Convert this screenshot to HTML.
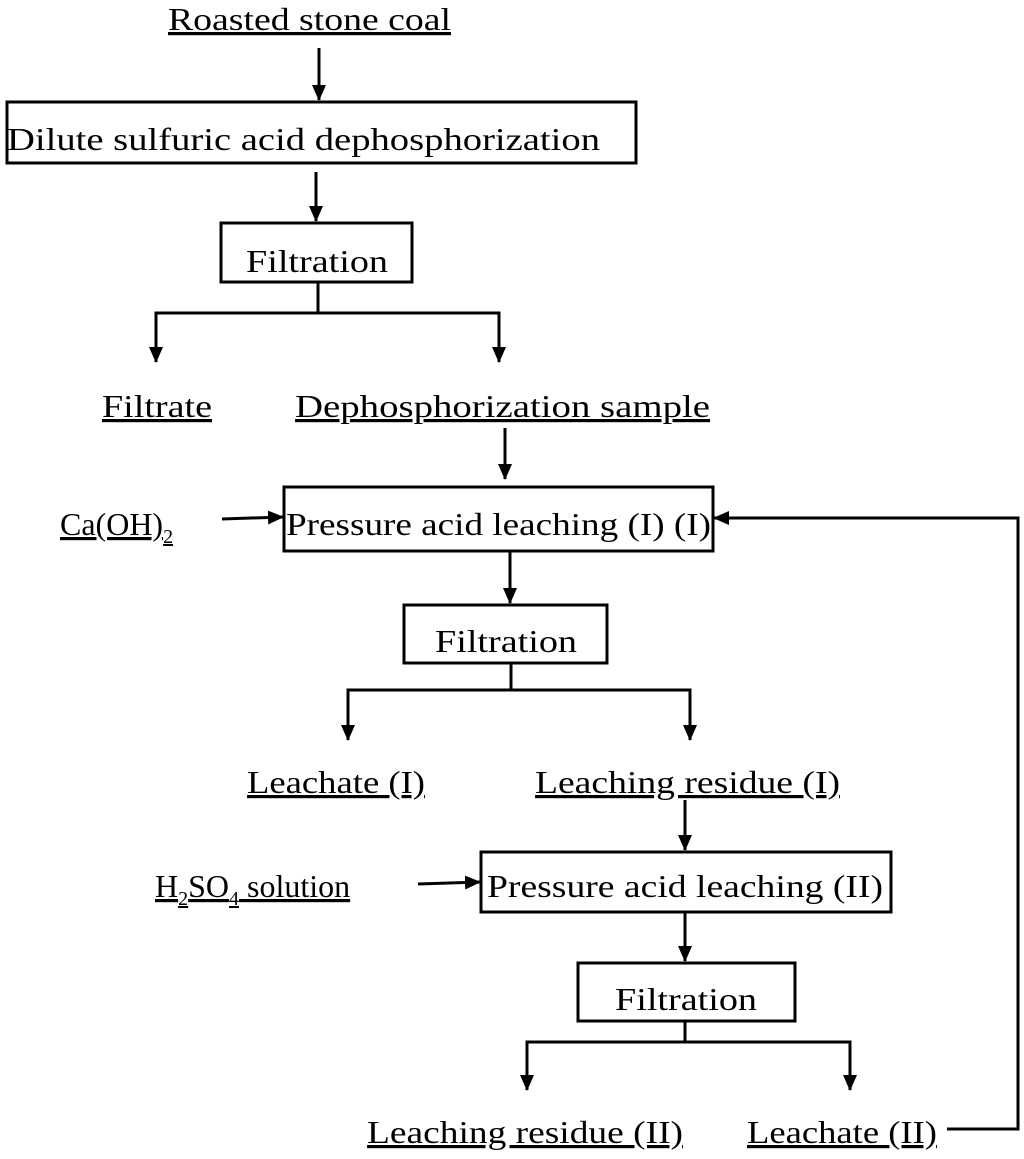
<!DOCTYPE html>
<html><head><meta charset="utf-8"><style>body{margin:0;background:#fff}svg{display:block}</style></head><body>
<svg width="1024" height="1159" viewBox="0 0 1024 1159" xmlns="http://www.w3.org/2000/svg" font-family="Liberation Serif, serif" font-size="32" fill="#000">
<defs><marker id="a" markerWidth="10" markerHeight="10" refX="9" refY="5" orient="auto" markerUnits="userSpaceOnUse" viewBox="0 0 10 10"><path d="M0,0 L10,5 L0,10 z"/></marker>
<marker id="b" markerWidth="16" markerHeight="16" refX="15" refY="8" orient="auto" markerUnits="userSpaceOnUse" viewBox="0 0 16 16"><path d="M0,1 L16,8 L0,15 z"/></marker></defs>
<g stroke="#000" stroke-width="3" fill="none">
<rect x="7" y="102" width="629" height="61"/>
<rect x="221" y="223" width="191" height="59"/>
<rect x="284" y="487" width="429" height="64"/>
<rect x="404" y="605" width="203" height="58"/>
<rect x="481" y="852" width="410" height="60"/>
<rect x="578" y="963" width="217" height="58"/>
<g marker-end="url(#b)">
<line x1="319" y1="48" x2="319" y2="100"/>
<line x1="316" y1="172" x2="316" y2="221"/>
<polyline points="318,282 318,313 156,313 156,362"/>
<polyline points="318,313 499,313 499,362"/>
<line x1="505" y1="428" x2="505" y2="479"/>
<line x1="222" y1="519" x2="283" y2="517"/>
<polyline points="947,1129 1018,1129 1018,518 714,518"/>
<line x1="510" y1="551" x2="510" y2="603"/>
<polyline points="511,663 511,690 348,690 348,740"/>
<polyline points="511,690 690,690 690,740"/>
<line x1="685" y1="800" x2="685" y2="850"/>
<line x1="418" y1="884" x2="480" y2="882"/>
<line x1="685" y1="912" x2="685" y2="961"/>
<polyline points="685,1021 685,1042 527,1042 527,1090"/>
<polyline points="685,1042 850,1042 850,1090"/>
</g></g>
<g text-decoration="underline">
<text x="168" y="30" textLength="283" lengthAdjust="spacingAndGlyphs">Roasted stone coal</text>
<text x="102" y="417" textLength="110" lengthAdjust="spacingAndGlyphs">Filtrate</text>
<text x="295" y="417" textLength="415" lengthAdjust="spacingAndGlyphs">Dephosphorization sample</text>
<text x="247" y="793" textLength="178" lengthAdjust="spacingAndGlyphs">Leachate (I)</text>
<text x="535" y="793" textLength="305" lengthAdjust="spacingAndGlyphs">Leaching residue (I)</text>
<text x="367" y="1143" textLength="316" lengthAdjust="spacingAndGlyphs">Leaching residue (II)</text>
<text x="747" y="1143" textLength="190" lengthAdjust="spacingAndGlyphs">Leachate (II)</text>
<text x="60" y="535">Ca(OH)<tspan font-size="20" dy="8">2</tspan></text>
<text x="155" y="897">H<tspan font-size="20" dy="8">2</tspan><tspan dy="-8">SO</tspan><tspan font-size="20" dy="8">4</tspan><tspan dy="-8"> solution</tspan></text>
</g>
<text x="7" y="150" textLength="593" lengthAdjust="spacingAndGlyphs">Dilute sulfuric acid dephosphorization</text>
<text x="246" y="272" textLength="142" lengthAdjust="spacingAndGlyphs">Filtration</text>
<text x="286" y="535" textLength="425" lengthAdjust="spacingAndGlyphs">Pressure acid leaching (I) (I)</text>
<text x="435" y="652" textLength="142" lengthAdjust="spacingAndGlyphs">Filtration</text>
<text x="487" y="897" textLength="396" lengthAdjust="spacingAndGlyphs">Pressure acid leaching (II)</text>
<text x="615" y="1010" textLength="142" lengthAdjust="spacingAndGlyphs">Filtration</text>
</svg>
</body></html>
